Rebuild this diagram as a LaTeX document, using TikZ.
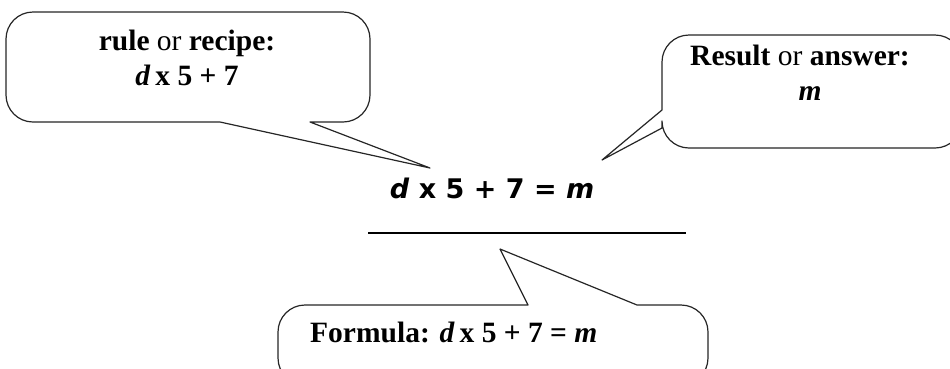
\documentclass[tikz,border=0pt]{standalone}
\usepackage{fontspec}
\setmainfont{Liberation Serif}
\newfontfamily\eqfont{DejaVu Sans}
\usetikzlibrary{positioning}
\tikzset{
  bubble/.style={draw=black!85, line width=1.2pt, fill=white, line join=round},
  txt/.style={inner sep=0pt, align=center, font=\fontsize{29.5}{35}\selectfont},
  eqn/.style={inner sep=0pt, font=\eqfont\bfseries\fontsize{27}{32}\selectfont},
}

\begin{document}
\begin{tikzpicture}[x=1pt, y=-1pt]
    \useasboundingbox (0,0) rectangle (950,368);
    % rule bubble, top left
    \draw[bubble] (310,122) [rounded corners=27pt] -- (370,122) -- (370,12) -- (6,12) -- (6,122) [sharp corners] -- (220,122) -- (430,168) -- cycle;
    % result bubble, top right
    \draw[bubble] (662,128) [rounded corners=27pt] -- (662,148) -- (962,148) -- (962,35) -- (662,35) [sharp corners] -- (662,110) -- (602,160) -- cycle;
    % formula bubble, bottom
    \draw[bubble] (637,305) [rounded corners=27pt] -- (708,305) -- (708,385) -- (278,385) -- (278,305) [sharp corners] -- (528,305) -- (500,249) -- cycle;
    \node[txt, anchor=base] (rule) at (187,85) {\textbf{rule} or \textbf{recipe:}\\\textbf{\textit{d}\,x 5 + 7}};
    \node[txt, anchor=base] (result) at (800,100) {\textbf{Result} or \textbf{answer:}\\\hspace*{20pt}\textbf{\textit{m}}};
    \node[eqn, anchor=base] (eq) at (492,198) {\textit{d} x 5 + 7 = \textit{m}};
    \coordinate (lineL) at (368,233);
    \coordinate (lineR) at (686,233);
    \draw[line width=1.2pt] (lineL) -- (lineR);
    \node[txt, anchor=base west] (formula) at (310,342) {\textbf{Formula: \textit{d}\,x 5 + 7 = \textit{m}}};
\end{tikzpicture}
\end{document}
